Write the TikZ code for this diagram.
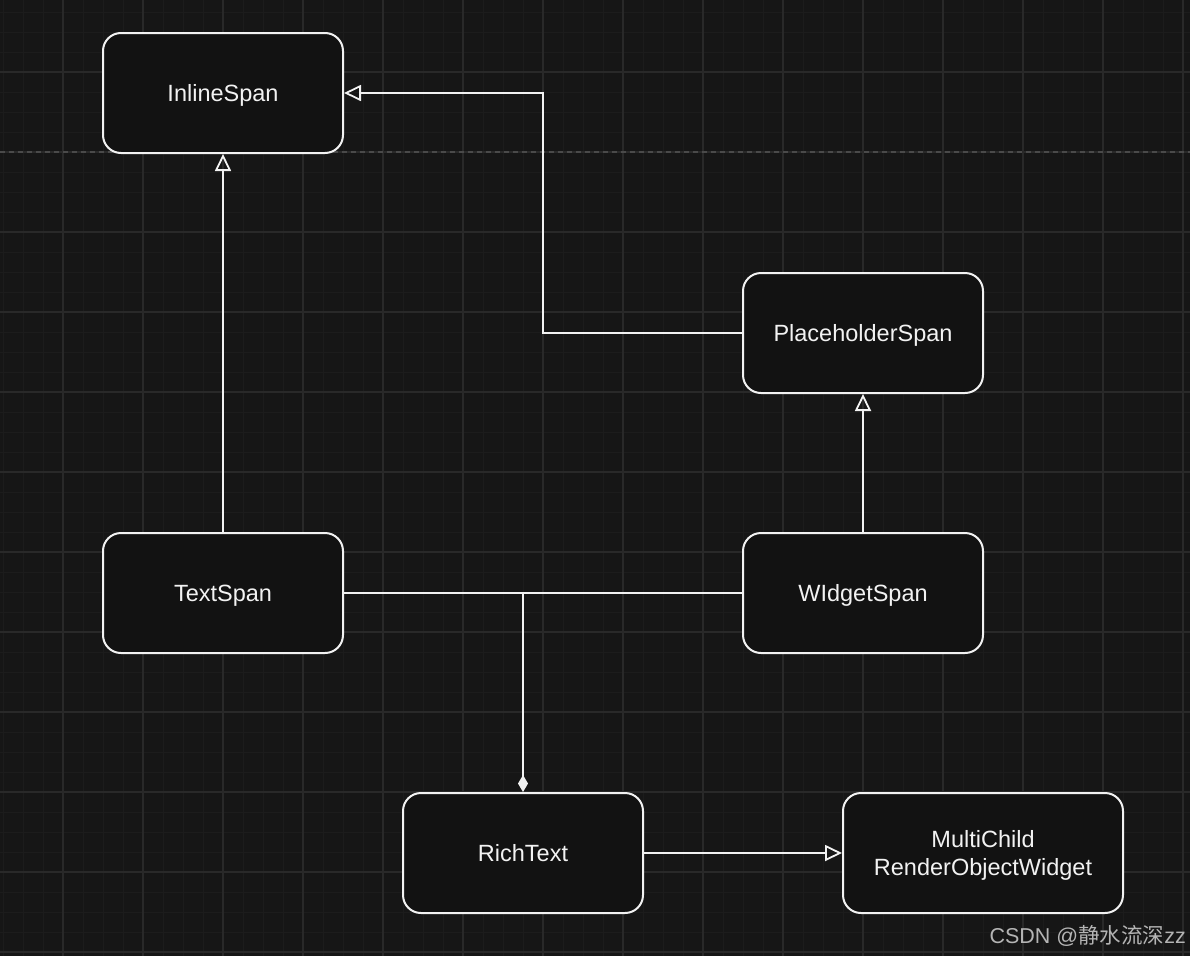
\documentclass[tikz,border=0pt]{standalone}
\usepackage{fontspec}
\setmainfont{Liberation Sans}
\newfontfamily\cjkfont{Noto Sans CJK SC}
\usetikzlibrary{arrows.meta}
\definecolor{bgc}{HTML}{161616}
\definecolor{minorc}{HTML}{1C1C1C}
\definecolor{majorc}{HTML}{292929}
\definecolor{boxc}{HTML}{121212}
\definecolor{linec}{HTML}{F2F2F2}
\definecolor{dashc}{HTML}{4A4A4A}
\definecolor{wmc}{HTML}{B4B4B4}
\tikzset{
  x=1pt, y=-1pt,
  classbox/.style={draw=linec, fill=boxc, line width=2pt, rounded corners=18pt,
    minimum width=240pt, minimum height=120pt, inner sep=0pt, align=center,
    text=linec, font=\fontsize{23.5}{28}\selectfont, text height=17pt, text depth=0pt},
  conn/.style={draw=linec, line width=1.8pt},
  inh/.style={conn, -{Triangle[open, length=17pt, width=16pt, line width=1.8pt]}},
  comp/.style={conn, -{Diamond[length=17pt, width=10pt, fill=linec]}},
}
\begin{document}
\begin{tikzpicture}
\useasboundingbox (0,0) rectangle (1190,956);
\fill[bgc] (0,0) rectangle (1190,956);
% minor grid
\foreach \i in {0,...,59} {\draw[minorc, line width=1pt] (3+20*\i,0) -- (3+20*\i,956);}
\foreach \j in {0,...,48} {\draw[minorc, line width=1pt] (0,12+20*\j) -- (1190,12+20*\j);}
% major grid
\foreach \i in {0,...,14} {\draw[majorc, line width=1.2pt] (63+80*\i,0) -- (63+80*\i,956);}
\foreach \j in {0,...,11} {\draw[majorc, line width=1.2pt] (0,72+80*\j) -- (1190,72+80*\j);}
\draw[dashc, line width=1.2pt, dash pattern=on 5pt off 4pt] (0,152) -- (1190,152);

% nodes
\node[classbox] (is) at (223,93) {InlineSpan};
\node[classbox] (ps) at (863,333) {PlaceholderSpan};
\node[classbox] (ts) at (223,593) {TextSpan};
\node[classbox] (ws) at (863,593) {WIdgetSpan};
\node[classbox] (rt) at (523,853) {RichText};
\node[classbox, minimum width=280pt, text height=45pt] (mc) at (983,853) {MultiChild\\RenderObjectWidget};

% connectors
\coordinate (b1) at (543,333);
\coordinate (jn) at (523,593);
\draw[inh] (ts.north) -- (is.south);
\draw[inh] (ps.west) -- (b1) |- (is.east);
\draw[inh] (ws.north) -- (ps.south);
\draw[conn] (ws.west) -- (jn);
\draw[comp] (ts.east) -- (jn) -- (rt.north);
\draw[inh] (rt.east) -- (mc.west);

% watermark
\node[anchor=east, text=wmc, inner sep=0pt, font=\fontsize{21.5}{24}\selectfont] (wm) at (1186,936) {CSDN @{\cjkfont 静水流深}zz};
\end{tikzpicture}
\end{document}
